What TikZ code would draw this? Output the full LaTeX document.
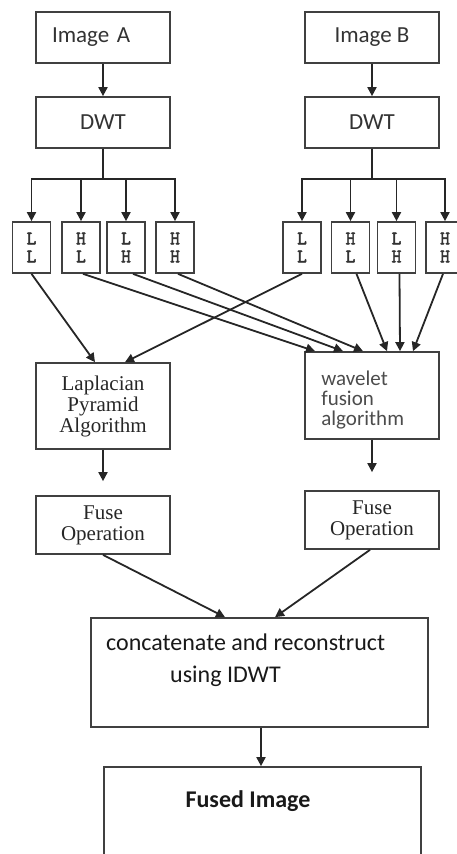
\documentclass[tikz,border=0pt]{standalone}
\usepackage{fontspec}
\setmainfont{Carlito}
\newfontfamily\serf{Liberation Serif}
\newfontfamily\monof{Latin Modern Mono}[FakeBold=2.5]
\usetikzlibrary{arrows.meta}
\begin{document}
\begin{tikzpicture}[x=1pt, y=-1pt,
box/.style={draw=black!75, line width=1.7pt, inner sep=0pt, align=center},
bigbox/.style={box, minimum width=134pt, minimum height=51pt, font=\fontsize{23}{24}\selectfont, text=black!80},
band/.style={box, minimum width=38pt, minimum height=51pt, font=\monof\fontsize{19}{18}\selectfont, text=black!80},
serbox/.style={box, minimum width=134pt, font=\serf\fontsize{21}{21}\selectfont, text=black!85},
arr/.style={draw=black!85, line width=1.8pt, -{Triangle[length=9pt,width=9pt]}},
txt/.style={inner sep=0pt, font=\fontsize{24}{24}\selectfont, text=black!90}]
\useasboundingbox (0,0) rectangle (456,854);
\node[bigbox, text width=102pt, align=left] (imgA) at (103,37.5) {Image A};
\node[bigbox] (imgB) at (372,37.5) {Image B};
\node[bigbox] (dwtA) at (103,122.5) {DWT};
\node[bigbox] (dwtB) at (372,122.5) {DWT};
\draw[arr] (imgA) -- (dwtA);
\draw[arr] (imgB) -- (dwtB);
\node[band] (llA) at (31.5,247.5) {L\\L};
\node[band] (hlA) at (81,247.5) {H\\L};
\node[band] (lhA) at (126,247.5) {L\\H};
\node[band] (hhA) at (175,247.5) {H\\H};
\node[band] (llB) at (302,247.5) {L\\L};
\node[band] (hlB) at (350.5,247.5) {H\\L};
\node[band] (lhB) at (396.5,247.5) {L\\H};
\node[band] (hhB) at (445,247.5) {H\\H};
\draw[arr] (dwtA.south) -- ++(0,30) -| (llA.north);
\draw[arr] (dwtA.south) -- ++(0,30) -| (hlA.north);
\draw[arr] (dwtA.south) -- ++(0,30) -| (lhA.north);
\draw[arr] (dwtA.south) -- ++(0,30) -| (hhA.north);
\draw[arr] (dwtB.south) -- ++(0,30) -| (llB.north);
\draw[arr] (dwtB.south) -- ++(0,30) -| (hlB.north);
\draw[arr] (dwtB.south) -- ++(0,30) -| (lhB.north);
\draw[arr] (dwtB.south) -- ++(0,30) -| (hhB.north);
\node[serbox, minimum height=86pt] (lap) at (103,406) {Laplacian\\Pyramid\\Algorithm};
\node[box, minimum width=134pt, minimum height=87pt] (wav) at (372,395.5) {};
\node[anchor=north west, inner sep=0pt, align=left, font=\fontsize{21}{20}\selectfont, text=black!70] (wavT) at ([xshift=17pt,yshift=-20pt]wav.north west) {wavelet\\fusion\\algorithm};
\draw[arr] (llA.south) -- ([xshift=-8pt]lap.north);
\draw[arr] (llB.south) -- ([xshift=22pt]lap.north);
\draw[arr] ([xshift=2pt]hlA.south) -- ([xshift=-57pt]wav.north);
\draw[arr] ([xshift=7pt]lhA.south) -- ([xshift=-29pt]wav.north);
\draw[arr] ([xshift=3pt]hhA.south) -- ([xshift=-9pt]wav.north);
\draw[arr] ([xshift=6pt]hlB.south) -- ([xshift=15pt]wav.north);
\draw[arr] ([xshift=3pt]lhB.south) -- ([xshift=28pt]wav.north);
\draw[arr] ([xshift=-2pt]hhB.south) -- ([xshift=41pt]wav.north);
\node[serbox, minimum height=58pt] (fuseA) at (103,525) {Fuse\\Operation};
\node[serbox, minimum height=58pt] (fuseB) at (372,520) {Fuse\\Operation};
\draw[arr, shorten >=14pt] (lap) -- (fuseA);
\draw[arr, shorten >=18pt] (wav) -- (fuseB);
\node[box, minimum width=337pt, minimum height=109pt] (cat) at (259.5,672.5) {};
\node[txt, anchor=base west] (catA) at (106,650) {concatenate and reconstruct};
\node[txt, anchor=base west] (catB) at (170,682) {using IDWT};
\draw[arr] (fuseA.south) -- ([xshift=-34.5pt]cat.north);
\draw[arr] ([xshift=-2pt]fuseB.south) -- ([xshift=15.5pt]cat.north);
\node[box, minimum width=317pt, minimum height=133pt] (fused) at (262.5,833.5) {};
\node[txt, anchor=base, font=\bfseries\fontsize{24}{24}\selectfont] (fusedT) at (248,807) {Fused Image};
\draw[arr] ([xshift=1.5pt]cat.south) -- ([xshift=1.5pt]cat.south |- fused.north);
\end{tikzpicture}
\end{document}
